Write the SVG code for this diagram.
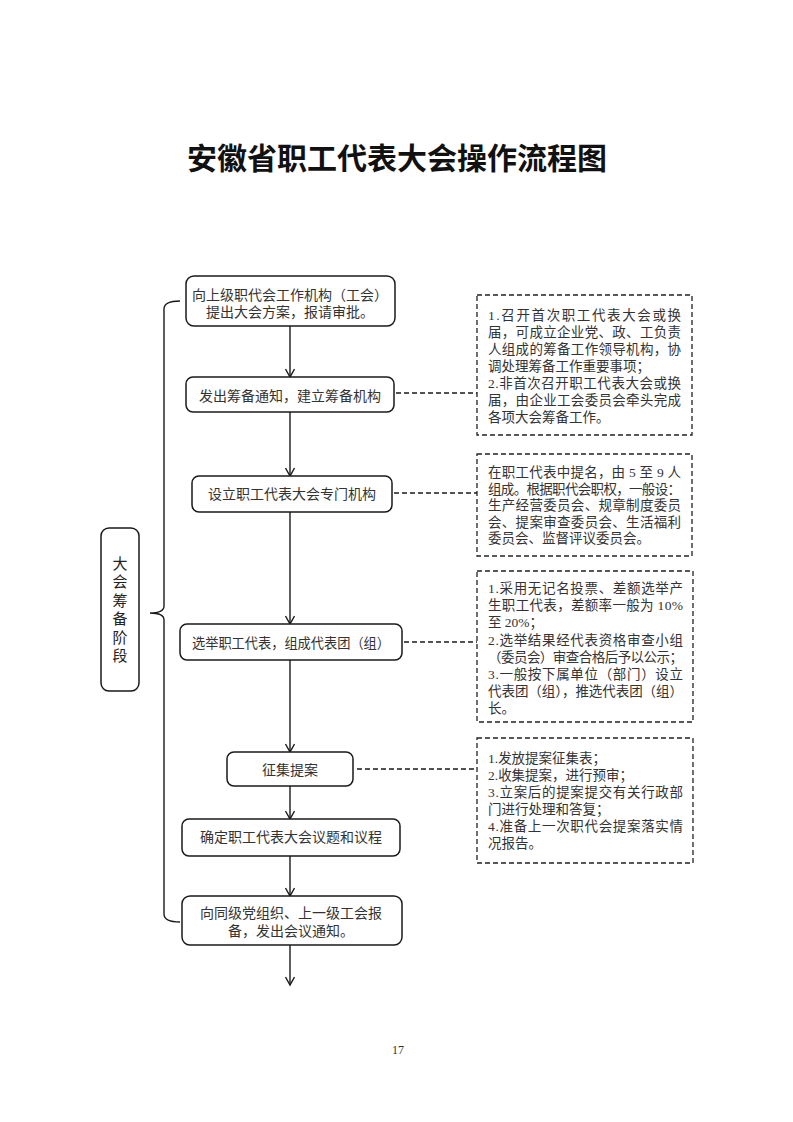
<svg xmlns="http://www.w3.org/2000/svg" width="793" height="1122" viewBox="0 0 793 1122">
<style>
.bg{fill:#fff}
.box{fill:#fff;stroke:#1a1a1a;stroke-width:1.5}
.dbox{fill:#fff;stroke:#222;stroke-width:1.3;stroke-dasharray:5,3}
.t{font-family:"Liberation Serif","Noto Sans CJK SC",serif;font-size:14px;fill:#333}
.c{text-anchor:middle}
.n{font-family:"Liberation Serif","Noto Sans CJK SC",serif;font-size:13.5px;fill:#333}
.title{font-family:"Noto Sans CJK SC",sans-serif;font-size:30px;font-weight:700;fill:#111;text-anchor:middle}
.v{font-family:"Noto Sans CJK SC",sans-serif;font-size:15px;fill:#222;text-anchor:middle;writing-mode:vertical-rl;letter-spacing:3.5px}
.ln{fill:none;stroke:#1a1a1a;stroke-width:1.4}
.dl{fill:none;stroke:#1a1a1a;stroke-width:1.3;stroke-dasharray:5,3}
</style>
<defs>
<marker id="ah" markerUnits="userSpaceOnUse" markerWidth="12" markerHeight="12" refX="9" refY="5" orient="auto">
<path d="M1,0.5 L9,5 L1,9.5" fill="none" stroke="#1a1a1a" stroke-width="1.4"/>
</marker>
</defs>
<rect class="bg" x="0" y="0" width="793" height="1122"/>
<text class="title" x="397" y="169">安徽省职工代表大会操作流程图</text>

<g id="connectors">
<line class="ln" x1="290" y1="326" x2="290" y2="377" marker-end="url(#ah)"/>
<line class="ln" x1="290" y1="412" x2="290" y2="476" marker-end="url(#ah)"/>
<line class="ln" x1="290" y1="512" x2="290" y2="624" marker-end="url(#ah)"/>
<line class="ln" x1="290" y1="660" x2="290" y2="752" marker-end="url(#ah)"/>
<line class="ln" x1="290" y1="786" x2="290" y2="819" marker-end="url(#ah)"/>
<line class="ln" x1="290" y1="856" x2="290" y2="896" marker-end="url(#ah)"/>
<line class="ln" x1="290" y1="945" x2="290" y2="985" marker-end="url(#ah)"/>
<line class="dl" x1="396" y1="393" x2="477" y2="393"/>
<line class="dl" x1="394" y1="493" x2="477" y2="493"/>
<line class="dl" x1="404" y1="642" x2="477" y2="642"/>
<line class="dl" x1="357" y1="769" x2="477" y2="769"/>
<path class="ln" d="M180,301 Q164,301 164,309 L164,606 Q164,613 150,613 Q164,613 164,620 L164,914 Q164,922 180,922"/>
</g>

<g id="stage">
<rect class="box" x="101" y="528" width="38" height="163" rx="8"/>
<text class="v" x="120" y="611">大会筹备阶段</text>
</g>

<g id="n1">
<rect class="box" x="186" y="276" width="209" height="50" rx="8"/>
<text class="t c" x="290" y="300">向上级职代会工作机构（工会）</text>
<text class="t c" x="290" y="317">提出大会方案，报请审批。</text>
</g>
<g id="n2">
<rect class="box" x="186" y="377" width="208" height="35" rx="7"/>
<text class="t c" x="290" y="401">发出筹备通知，建立筹备机构</text>
</g>
<g id="n3">
<rect class="box" x="192" y="476" width="200" height="36" rx="7"/>
<text class="t c" x="292" y="499">设立职工代表大会专门机构</text>
</g>
<g id="n4">
<rect class="box" x="180" y="624" width="222" height="36" rx="7"/>
<text class="t c" x="291" y="648" textLength="198" lengthAdjust="spacingAndGlyphs">选举职工代表，组成代表团（组）</text>
</g>
<g id="n5">
<rect class="box" x="227" y="752" width="126" height="34" rx="7"/>
<text class="t c" x="290" y="775">征集提案</text>
</g>
<g id="n6">
<rect class="box" x="182" y="819" width="218" height="37" rx="7"/>
<text class="t c" x="291" y="842">确定职工代表大会议题和议程</text>
</g>
<g id="n7">
<rect class="box" x="182" y="896" width="220" height="49" rx="8"/>
<text class="t c" x="291" y="918">向同级党组织、上一级工会报</text>
<text class="t c" x="291" y="936">备，发出会议通知。</text>
</g>

<g id="noteA">
<rect class="dbox" x="477" y="295" width="215" height="140"/>
<text class="n" x="488" y="320" textLength="193" lengthAdjust="spacing">1.召开首次职工代表大会或换</text>
<text class="n" x="488" y="337" textLength="193" lengthAdjust="spacing">届，可成立企业党、政、工负责</text>
<text class="n" x="488" y="354" textLength="193" lengthAdjust="spacing">人组成的筹备工作领导机构，协</text>
<text class="n" x="488" y="371">调处理筹备工作重要事项；</text>
<text class="n" x="488" y="388" textLength="193" lengthAdjust="spacing">2.非首次召开职工代表大会或换</text>
<text class="n" x="488" y="405" textLength="193" lengthAdjust="spacing">届，由企业工会委员会牵头完成</text>
<text class="n" x="488" y="422">各项大会筹备工作。</text>
</g>
<g id="noteB">
<rect class="dbox" x="477" y="454" width="215" height="102"/>
<text class="n" x="488" y="477" textLength="193" lengthAdjust="spacing">在职工代表中提名，由 5 至 9 人</text>
<text class="n" x="488" y="493.5" textLength="193" lengthAdjust="spacing">组成。根据职代会职权，一般设：</text>
<text class="n" x="488" y="510" textLength="193" lengthAdjust="spacing">生产经营委员会、规章制度委员</text>
<text class="n" x="488" y="526.5" textLength="193" lengthAdjust="spacing">会、提案审查委员会、生活福利</text>
<text class="n" x="488" y="543">委员会、监督评议委员会。</text>
</g>
<g id="noteC">
<rect class="dbox" x="477" y="571" width="216" height="151"/>
<text class="n" x="488" y="593" textLength="195" lengthAdjust="spacing">1.采用无记名投票、差额选举产</text>
<text class="n" x="488" y="610" textLength="195" lengthAdjust="spacing">生职工代表，差额率一般为 10%</text>
<text class="n" x="488" y="627">至 20%；</text>
<text class="n" x="488" y="644.5" textLength="195" lengthAdjust="spacing">2.选举结果经代表资格审查小组</text>
<text class="n" x="488" y="661.5" textLength="195" lengthAdjust="spacing">（委员会）审查合格后予以公示；</text>
<text class="n" x="488" y="678.5" textLength="195" lengthAdjust="spacing">3.一般按下属单位（部门）设立</text>
<text class="n" x="488" y="696" textLength="195" lengthAdjust="spacing">代表团（组），推选代表团（组）</text>
<text class="n" x="488" y="713">长。</text>
</g>
<g id="noteD">
<rect class="dbox" x="477" y="738" width="216" height="125"/>
<text class="n" x="488" y="763">1.发放提案征集表；</text>
<text class="n" x="488" y="780">2.收集提案，进行预审；</text>
<text class="n" x="488" y="797" textLength="195" lengthAdjust="spacing">3.立案后的提案提交有关行政部</text>
<text class="n" x="488" y="814">门进行处理和答复；</text>
<text class="n" x="488" y="831" textLength="195" lengthAdjust="spacing">4.准备上一次职代会提案落实情</text>
<text class="n" x="488" y="848">况报告。</text>
</g>

<text x="398" y="1054" font-family="Liberation Serif, serif" font-size="12" fill="#333" text-anchor="middle">17</text>
</svg>
